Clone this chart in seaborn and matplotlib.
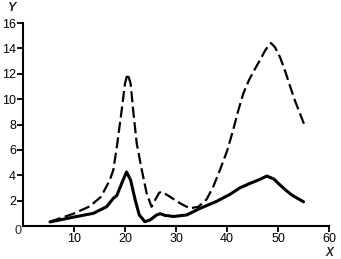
import matplotlib
matplotlib.use("Agg")
import matplotlib.pyplot as plt
import seaborn as sns
import pandas as pd

# Dashed curve
dash_x = [5.3, 9.9, 13.1, 15.3, 17.0, 17.7, 18.4, 19.35, 20.0, 20.5, 21.1, 21.6,
          22.3, 23.3, 24.25, 25.2, 25.9, 26.7, 27.2, 28.8, 30.8, 32.7, 34.4, 36.0,
          37.3, 38.6, 40.0, 41.2, 42.2, 43.2, 44.3, 45.5, 46.5, 47.5, 48.6, 49.4,
          50.4, 51.4, 52.4, 53.3, 54.3, 55.3]
dash_y = [0.34, 0.97, 1.55, 2.31, 3.6, 4.4, 6.24, 9.13, 11.24, 12.0, 11.24, 9.13,
          6.5, 4.4, 2.57, 1.52, 2.05, 2.62, 2.7, 2.31, 1.79, 1.39, 1.52, 2.1,
          3.1, 4.4, 5.9, 7.56, 9.1, 10.45, 11.5, 12.4, 13.1, 13.86, 14.43, 14.1,
          13.3, 12.2, 10.97, 9.9, 8.87, 7.82]

# Solid curve
solid_x = [5.3, 9.9, 13.8, 16.4, 17.7, 18.4, 19.35, 20.3, 21.1, 22.0, 22.8, 23.9,
           24.9, 26.2, 26.9, 27.8, 29.5, 32.1, 34.7, 38.0, 40.6, 42.5, 44.5, 46.3,
           47.8, 49.2, 50.4, 51.6, 52.7, 55.0]
solid_y = [0.32, 0.7, 1.0, 1.52, 2.18, 2.4, 3.36, 4.26, 3.62, 2.05, 0.87, 0.34,
           0.47, 0.87, 0.97, 0.84, 0.75, 0.87, 1.39, 1.95, 2.5, 3.0, 3.36, 3.65,
           3.94, 3.7, 3.23, 2.8, 2.44, 1.91]

x_ticks = [10, 20, 30, 40, 50, 60]
y_ticks = [2, 4, 6, 8, 10, 12, 14, 16]

sns.set_style("ticks")
plt.rcParams['font.family'] = ['Liberation Sans', 'DejaVu Sans']

fig = plt.figure(figsize=(3.41, 2.59), dpi=100)
ax = fig.add_axes([0.0674, 0.1274, 0.8975, 0.7836])

df_d = pd.DataFrame({"x": dash_x, "y": dash_y})
df_s = pd.DataFrame({"x": solid_x, "y": solid_y})

sns.lineplot(data=df_d, x="x", y="y", ax=ax, color="black", lw=1.6,
             sort=False, estimator=None)
ax.lines[-1].set_dashes([5, 2])
ax.lines[-1].set_solid_joinstyle("round")
sns.lineplot(data=df_s, x="x", y="y", ax=ax, color="black", lw=2.2,
             sort=False, estimator=None)
ax.lines[-1].set_solid_joinstyle("round")

ax.set_xlim(0, 60)
ax.set_ylim(0, 16)
ax.set_xticks(x_ticks)
ax.set_yticks(y_ticks)
ax.set_xticklabels([str(v) for v in x_ticks], fontsize=9)
ax.set_yticklabels([str(v) for v in y_ticks], fontsize=9)
ax.set_xlabel("")
ax.set_ylabel("")
ax.tick_params(direction="out", length=4, width=1.3, pad=1.0, colors="black")
for s in ["left", "bottom"]:
    ax.spines[s].set_linewidth(1.5)
    ax.spines[s].set_color("black")
for s in ["top", "right"]:
    ax.spines[s].set_visible(False)

fig.text(18 / 341, 1 - 231 / 259, "0", fontsize=9, ha="center", va="center")
fig.text(12 / 341, 1 - 8 / 259, "Y", fontsize=9, ha="center", va="center",
         style="italic", fontweight="bold")
fig.text(329 / 341, 1 - 252.5 / 259, "X", fontsize=8.5, ha="center", va="center",
         style="italic", fontweight="bold")

fig.savefig("out.png", dpi=100)
